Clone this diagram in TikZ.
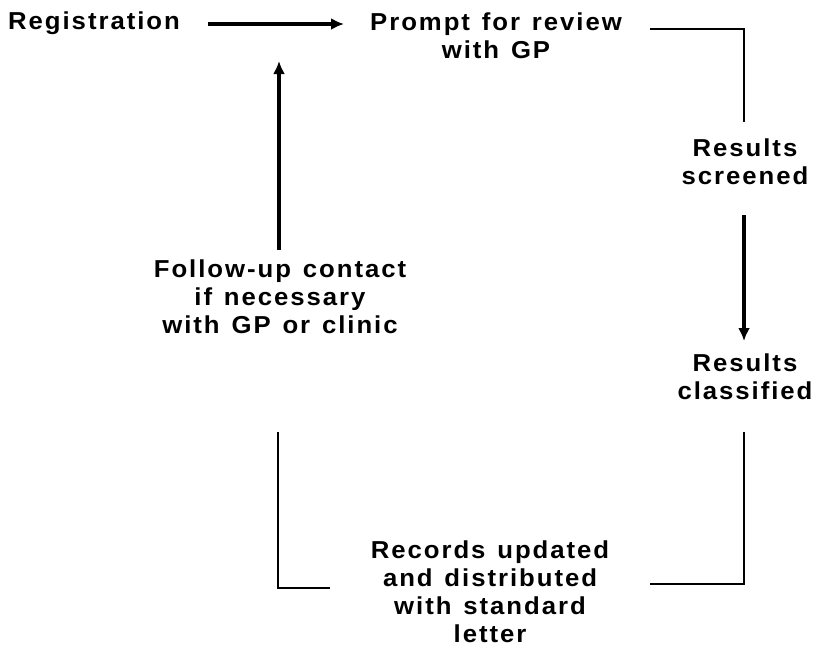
\documentclass[tikz,border=0pt]{standalone}
\usepackage{fontspec}
\newfontfamily\lblfont[FakeStretch=1.05,LetterSpace=8,WordSpace=1.3]{Liberation Sans}
\usetikzlibrary{arrows.meta}
\begin{document}
\begin{tikzpicture}[x=1pt,y=-1pt,
  lbl/.style={inner sep=0pt,align=center,font=\lblfont\bfseries\fontsize{24.5}{28}\selectfont},
  flow/.style={line width=3.4pt,-{Latex[length=13pt,width=12pt]}},
  bracket/.style={line width=1.4pt}]
  \useasboundingbox (0,0) rectangle (818,649);

  % stages of the cycle
  \node[lbl] (reg)        at (94,23)   {Registration};
  \node[lbl] (prompt)     at (496,36)  {Prompt for review\\with GP};
  \node[lbl] (screened)   at (745,162) {Results\\screened};
  \node[lbl] (classified) at (745,377) {Results\\classified};
  \node[lbl] (records)    at (490,592) {Records updated\\and distributed\\with standard\\letter};
  \node[lbl] (follow)     at (280,297) {Follow-up contact\\if necessary\\with GP or clinic};

  % free ends of the bracket lines
  \coordinate (p1) at (650,29);
  \coordinate (p2) at (744,122);
  \coordinate (c1) at (744,432);
  \coordinate (c2) at (650,584);
  \coordinate (r1) at (330,588);
  \coordinate (r2) at (278,432);

  % arrow tails and tips
  \coordinate (a1) at (208,24);
  \coordinate (a2) at (344,24);
  \coordinate (b1) at (744,215);
  \coordinate (b2) at (744,341);
  \coordinate (f1) at (279,250);
  \coordinate (f2) at (279,61);

  \draw[flow] (a1) -- (a2);
  \draw[flow] (b1) -- (b2);
  \draw[flow] (f1) -- (f2);
  \draw[bracket] (p1) -| (p2);
  \draw[bracket] (c1) |- (c2);
  \draw[bracket] (r1) -| (r2);
\end{tikzpicture}
\end{document}
